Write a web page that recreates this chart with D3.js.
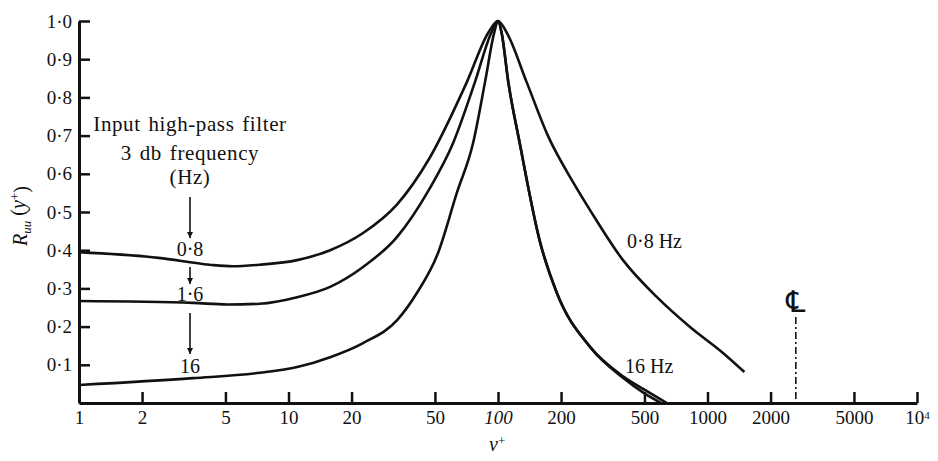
<!DOCTYPE html>
<html lang="en">
<head>
    <meta charset="UTF-8">
    <title>Ruu(y+)</title>
    <script src="https://cdn.jsdelivr.net/npm/d3@7"></script>
    <style>
        body { margin: 0; background: #fff; }
        svg text { font-family: "Liberation Serif", "Times New Roman", serif; fill: #111; }
    </style>
</head>
<body>
<svg width="938" height="461"></svg>
<script>
    // x in v+ (log), y in Ruu
    var x08 = [1, 2.4, 4.2, 5.4, 7.3, 11, 15.8, 22.7, 33, 47, 71, 90, 100, 110, 137, 173, 230, 275, 395, 574, 825, 1186, 1500];
    var y08 = [0.395, 0.38, 0.362, 0.358, 0.362, 0.374, 0.40, 0.445, 0.52, 0.64, 0.84, 0.97, 1.0, 0.97, 0.84, 0.70, 0.575, 0.505, 0.374, 0.277, 0.199, 0.131, 0.081];

    var x16 = [1, 3.5, 5.1, 7.3, 11, 15.8, 22.7, 33, 47, 61, 77.6, 93, 100, 104, 112, 127, 159, 191, 275, 395, 500, 640];
    var y16 = [0.267, 0.262, 0.258, 0.26, 0.277, 0.304, 0.356, 0.435, 0.56, 0.68, 0.84, 0.97, 1.0, 0.97, 0.84, 0.68, 0.42, 0.288, 0.147, 0.07, 0.035, 0.0];

    var x160 = [1, 3.5, 7.3, 11, 15.8, 22.7, 33, 41, 51.5, 63.6, 76, 86.7, 96, 100, 104, 112, 127, 159, 191, 275, 395, 500, 600];
    var y160 = [0.047, 0.065, 0.079, 0.094, 0.12, 0.157, 0.217, 0.288, 0.39, 0.55, 0.68, 0.84, 0.97, 1.0, 0.97, 0.84, 0.68, 0.42, 0.288, 0.147, 0.066, 0.025, 0.0];

    var xTicks = [1, 2, 5, 10, 20, 50, 100, 200, 500, 1000, 2000, 5000, 10000];
    var yTicks = [0.1, 0.2, 0.3, 0.4, 0.5, 0.6, 0.7, 0.8, 0.9, 1.0];
    var centreLine = 2640;

    var svg = d3.select("svg");

    var x = d3.scaleLog().domain([1, 10000]).range([79, 917]);
    var y = d3.scaleLinear().domain([0, 1]).range([403, 21]);

    // axes
    var xAxis = d3.axisBottom(x)
        .tickValues(xTicks)
        .tickFormat(d => d === 10000 ? "10" : String(d))
        .tickSizeInner(-11)
        .tickSizeOuter(0)
        .tickPadding(8);

    var gx = svg.append("g")
        .attr("transform", "translate(0," + y(0) + ")")
        .call(xAxis);

    var yAxis = d3.axisLeft(y)
        .tickValues(yTicks)
        .tickFormat(d => d3.format(".1f")(d).replace(".", "\u00b7"))
        .tickSizeInner(-11)
        .tickSizeOuter(0)
        .tickPadding(7);

    var gy = svg.append("g")
        .attr("transform", "translate(" + x(1) + ",0)")
        .call(yAxis);

    [gx, gy].forEach(function (g) {
        g.select(".domain").attr("stroke", "#111").attr("stroke-width", 3);
        g.selectAll(".tick line").attr("stroke", "#111").attr("stroke-width", 2.5);
        g.selectAll(".tick text").style("font-size", "19px").attr("fill", "#111");
    });
    gx.selectAll(".tick").filter(d => d === 1).select("line").remove();
    gx.selectAll(".tick text").filter(d => d === 100).style("font-style", "italic");
    gx.selectAll(".tick text").filter(d => d === 10000)
        .append("tspan").attr("dy", "-0.5em").style("font-size", "11px").text("4");

    // axis titles
    var yl = svg.append("text")
        .attr("transform", "translate(27,216) rotate(-90)")
        .attr("text-anchor", "middle")
        .style("font-size", "20px");
    yl.append("tspan").style("font-style", "italic").text("R");
    yl.append("tspan").attr("dy", "0.3em").style("font-size", "13px").style("font-style", "italic").text("uu");
    yl.append("tspan").attr("dy", "-0.3em").text(" (");
    yl.append("tspan").style("font-style", "italic").text("y");
    yl.append("tspan").attr("dy", "-0.45em").style("font-size", "13px").text("+");
    yl.append("tspan").attr("dy", "0.45em").text(")");

    var xl = svg.append("text")
        .attr("x", 489).attr("y", 451)
        .style("font-size", "20px");
    xl.append("tspan").style("font-style", "italic").text("\u03bd");
    xl.append("tspan").attr("dy", "-0.45em").style("font-size", "13px").text("+");

    // curves
    var line = d3.line()
        .x(d => x(d[0]))
        .y(d => y(d[1]))
        .curve(d3.curveMonotoneX);

    [[x08, y08], [x16, y16], [x160, y160]].forEach(function (s) {
        svg.append("path")
            .datum(d3.zip(s[0], s[1]))
            .attr("d", line)
            .attr("fill", "none")
            .attr("stroke", "#111")
            .attr("stroke-width", 2.6);
    });

    // centre line
    svg.append("line")
        .attr("x1", x(centreLine)).attr("x2", x(centreLine))
        .attr("y1", y(0.225)).attr("y2", y(0))
        .attr("stroke", "#111").attr("stroke-width", 1.6)
        .attr("stroke-dasharray", "7,3,2,3");
    svg.append("text").attr("x", x(centreLine)).attr("y", 312)
        .attr("text-anchor", "middle")
        .style("font-family", "'DejaVu Serif', 'DejaVu Sans', serif")
        .style("font-size", "30px")
        .text("\u2104");

    // annotation
    svg.append("defs").append("marker")
        .attr("id", "head")
        .attr("viewBox", "0 0 10 10")
        .attr("refX", 10).attr("refY", 5)
        .attr("markerWidth", 6).attr("markerHeight", 9)
        .attr("markerUnits", "userSpaceOnUse")
        .attr("orient", "auto")
        .append("path").attr("d", "M0,0 L10,5 L0,10 Z").attr("fill", "#111");

    var ax = 190;
    var note = ["Input high-pass filter", "3 db frequency", "(Hz)"];
    var noteY = [131, 160, 184];
    svg.selectAll(".note").data(note).enter().append("text")
        .attr("class", "note")
        .attr("x", ax)
        .attr("y", (d, i) => noteY[i])
        .attr("text-anchor", "middle")
        .style("font-size", "21px")
        .style("letter-spacing", "0.6px")
        .style("word-spacing", "2px")
        .text(d => d);

    var arrows = [[197, 238], [267, 284], [313, 354]];
    arrows.forEach(function (a) {
        svg.append("line")
            .attr("x1", ax).attr("x2", ax)
            .attr("y1", a[0]).attr("y2", a[1])
            .attr("stroke", "#111").attr("stroke-width", 1.6)
            .attr("marker-end", "url(#head)");
    });

    var freqLabels = ["0\u00b78", "1\u00b76", "16"];
    var freqY = [256, 301, 373];
    freqLabels.forEach(function (t, i) {
        svg.append("text").attr("x", ax).attr("y", freqY[i])
            .attr("text-anchor", "middle").style("font-size", "20px").text(t);
    });

    svg.append("text").attr("x", 627).attr("y", 248).style("font-size", "20px").text("0\u00b78 Hz");
    svg.append("text").attr("x", 625).attr("y", 373).style("font-size", "20px").text("16 Hz");
</script>
</body>
</html>
